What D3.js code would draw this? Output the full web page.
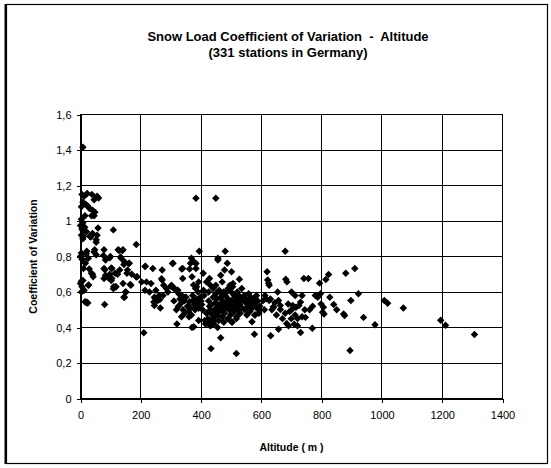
<!DOCTYPE html>
<html>
<head>
<meta charset="utf-8">
<script src="https://cdn.jsdelivr.net/npm/d3@7"></script>
<style>
    body { margin: 0; background: #fff; }
    svg { display: block; font-family: 'Liberation Sans', Arial, sans-serif; }
</style>
</head>
<body>
<svg id="canvas" width="551" height="468"></svg>
<script>
/** Chart texts */
const titleLines = ['Snow Load Coefficient of Variation  -  Altitude', '(331 stations in Germany)'];
const xTitle = 'Altitude ( m )';
const yTitle = 'Coefficient of Variation';

/** Tick values */
const xTicks = [0, 200, 400, 600, 800, 1000, 1200, 1400];
const yTicks = [0, 0.2, 0.4, 0.6, 0.8, 1.0, 1.2, 1.4, 1.6];

/** Stations below 60 m : [altitude, coefficient of variation] */
const lowland = [
    [8, 1.415],
    [5, 1.15], [12, 1.14], [22, 1.155], [38, 1.15], [55, 1.14], [45, 1.12], [60, 1.13],
    [8, 1.105], [17, 1.095], [24, 1.085], [3, 1.08], [30, 1.07],
    [40, 1.06], [48, 1.05], [37, 1.03], [45, 1.03], [15, 1.03],
    [3, 1.01], [8, 0.99], [0, 0.975], [14, 0.965], [5, 0.955], [8, 0.945], [58, 0.96], [20, 0.94],
    [40, 0.93], [55, 0.92], [34, 0.91], [8, 0.9], [52, 0.88], [10, 0.914], [31, 0.914], [52, 0.895], [3, 0.92],
    [21, 0.829], [47, 0.838], [3, 0.82], [19, 0.815], [45, 0.825], [0, 0.8], [26, 0.79], [52, 0.81],
    [14, 0.768], [16, 0.762], [10, 0.733], [36, 0.705], [42, 0.686], [29, 0.73], [40, 0.7], [3, 0.8], [5, 0.785],
    [0, 0.648], [26, 0.638], [5, 0.629], [3, 0.66], [8, 0.665], [27, 0.64], [3, 0.6], [12, 0.61],
    [21, 0.543], [19, 0.54], [24, 0.538], [15, 0.545]
];

/** Stations 60 - 300 m */
const plains = [
    [109, 0.95], [78, 0.838], [125, 0.838], [141, 0.838], [185, 0.867], [128, 0.834], [139, 0.834],
    [76, 0.805], [97, 0.793], [133, 0.797],
    [83, 0.78], [99, 0.8], [135, 0.79], [146, 0.77], [162, 0.762], [78, 0.733], [104, 0.733], [130, 0.724],
    [156, 0.724], [81, 0.725], [102, 0.735], [144, 0.755], [160, 0.76],
    [83, 0.695], [94, 0.686], [78, 0.676], [104, 0.676], [115, 0.705], [188, 0.686], [97, 0.7], [123, 0.7],
    [154, 0.705], [170, 0.7], [185, 0.685], [92, 0.68], [102, 0.665], [110, 0.63],
    [214, 0.743], [240, 0.733], [271, 0.724], [215, 0.745],
    [115, 0.629], [109, 0.619], [141, 0.648], [167, 0.638], [118, 0.63], [149, 0.6], [165, 0.643],
    [203, 0.657], [219, 0.657], [234, 0.648], [271, 0.667], [276, 0.638], [269, 0.675], [250, 0.61],
    [214, 0.61], [229, 0.6], [151, 0.6], [146, 0.571], [144, 0.57],
    [245, 0.571], [261, 0.58], [248, 0.563], [263, 0.557], [274, 0.58], [245, 0.524], [243, 0.543],
    [80, 0.53], [210, 0.37], [285, 0.62], [290, 0.6], [265, 0.51], [255, 0.55]
];

/** Stations 300 - 420 m */
const hills = [
    [307, 0.762], [339, 0.733], [365, 0.762], [305, 0.76], [336, 0.73], [362, 0.73], [339, 0.676], [370, 0.686],
    [368, 0.79], [383, 0.76], [394, 0.83], [383, 1.128], [376, 0.77], [383, 0.733],
    [302, 0.638], [313, 0.619], [323, 0.61], [300, 0.633], [310, 0.62], [326, 0.59], [336, 0.58], [347, 0.57],
    [375, 0.64], [385, 0.63], [407, 0.705], [392, 0.657], [418, 0.657], [428, 0.676],
    [310, 0.55], [318, 0.5], [320, 0.42], [325, 0.52], [330, 0.56], [335, 0.54], [340, 0.5], [345, 0.55],
    [350, 0.57], [355, 0.52], [358, 0.49], [362, 0.545], [365, 0.51], [368, 0.47], [370, 0.4], [372, 0.58],
    [375, 0.555], [378, 0.53], [380, 0.5], [382, 0.62], [385, 0.56], [388, 0.545], [390, 0.6], [392, 0.508],
    [395, 0.52], [398, 0.57], [400, 0.55], [402, 0.53], [405, 0.5], [408, 0.61], [410, 0.58], [412, 0.44],
    [415, 0.42], [418, 0.48], [376, 0.404], [392, 0.44], [360, 0.46], [345, 0.48], [335, 0.46]
];

/** Stations 420 - 600 m */
const uplands = [
    [449, 1.128],
    [480, 0.83], [456, 0.78], [487, 0.762], [501, 0.714], [478, 0.724], [465, 0.695], [527, 0.672], [456, 0.79],
    [449, 0.638], [470, 0.657], [496, 0.638], [506, 0.648], [449, 0.59], [475, 0.6],
    [527, 0.571], [543, 0.58], [558, 0.59], [564, 0.562], [579, 0.571], [584, 0.58], [520, 0.6], [535, 0.62],
    [550, 0.56], [570, 0.55], [590, 0.5], [595, 0.52], [560, 0.53], [545, 0.55], [510, 0.58], [500, 0.6],
    [490, 0.62], [505, 0.63], [515, 0.59],
    [425, 0.55], [428, 0.52], [430, 0.5], [432, 0.48], [435, 0.53], [438, 0.45], [440, 0.57], [442, 0.42],
    [445, 0.5], [448, 0.54], [450, 0.47], [452, 0.56], [455, 0.52], [458, 0.44], [460, 0.49], [462, 0.53],
    [465, 0.57], [468, 0.5], [470, 0.46], [472, 0.55], [475, 0.52], [478, 0.48], [480, 0.58], [483, 0.51],
    [485, 0.54], [488, 0.45], [490, 0.56], [493, 0.5], [495, 0.53], [498, 0.47], [500, 0.55], [503, 0.43],
    [505, 0.51], [508, 0.54], [510, 0.49], [512, 0.57], [515, 0.52], [518, 0.46], [520, 0.55], [523, 0.5],
    [525, 0.58], [528, 0.53], [530, 0.48], [533, 0.55], [536, 0.51], [540, 0.57], [545, 0.5], [548, 0.54],
    [552, 0.47], [555, 0.52], [558, 0.55], [562, 0.49], [565, 0.57], [570, 0.51], [575, 0.54], [578, 0.47],
    [582, 0.52], [588, 0.55], [592, 0.48],
    [433, 0.413], [438, 0.426], [454, 0.47], [501, 0.432], [517, 0.45], [569, 0.432], [579, 0.47],
    [465, 0.342], [433, 0.281], [517, 0.253], [577, 0.362],
    [425, 0.6], [440, 0.62], [430, 0.64], [460, 0.61], [485, 0.6], [470, 0.59],
    [423, 0.45], [427, 0.43], [430, 0.41], [445, 0.44], [455, 0.4], [440, 0.47], [475, 0.43]
];

/** Stations 600 - 810 m */
const lowMountains = [
    [619, 0.714], [621, 0.667], [626, 0.638], [624, 0.65], [679, 0.83], [681, 0.672], [685, 0.657], [741, 0.676],
    [654, 0.6], [616, 0.562], [626, 0.552], [657, 0.552], [663, 0.524], [640, 0.514], [689, 0.533], [704, 0.524],
    [715, 0.514], [730, 0.543], [735, 0.58], [779, 0.58], [787, 0.571], [796, 0.59], [756, 0.676], [793, 0.65],
    [640, 0.517], [663, 0.502], [684, 0.423], [699, 0.45], [709, 0.419], [735, 0.46], [679, 0.48], [694, 0.49],
    [631, 0.353], [657, 0.39], [730, 0.372], [725, 0.524], [744, 0.5], [746, 0.457], [720, 0.45], [769, 0.396],
    [798, 0.533], [806, 0.514], [803, 0.486], [808, 0.476],
    [605, 0.55], [610, 0.5], [612, 0.58], [630, 0.56], [645, 0.54], [670, 0.45], [690, 0.41], [700, 0.5],
    [712, 0.47], [720, 0.41], [760, 0.5], [770, 0.52], [650, 0.47], [635, 0.5], [700, 0.6], [712, 0.58]
];

/** Stations above 810 m */
const mountains = [
    [827, 0.571], [840, 0.53], [850, 0.5], [823, 0.698], [873, 0.476], [876, 0.467], [897, 0.552], [922, 0.59],
    [910, 0.733], [880, 0.705], [894, 0.27], [939, 0.457], [977, 0.415], [1008, 0.552], [1019, 0.537],
    [1071, 0.51], [1195, 0.441], [1211, 0.413], [1307, 0.36], [814, 0.67]
];

const stations = [...lowland, ...plains, ...hills, ...uplands, ...lowMountains, ...mountains];

/** Layout */
const width = 551;
const height = 468;
const margin = { left: 80.5, right: 502.5, top: 114.5, bottom: 398.5 };

const canvas = d3.select('#canvas');

/** Outer chart border */
canvas.append('rect')
    .attr('x', 6.5).attr('y', 4.5)
    .attr('width', 541).attr('height', 459)
    .attr('fill', 'none')
    .attr('stroke', '#000')
    .attr('stroke-width', 1.2);
canvas.append('line')
    .attr('x1', 5.5).attr('x2', 5.5)
    .attr('y1', 4).attr('y2', 464)
    .attr('stroke', '#000')
    .attr('stroke-width', 2);

/** Scales */
const xScale = d3.scaleLinear().domain([0, 1400]).range([margin.left, margin.right]);
const yScale = d3.scaleLinear().domain([0, 1.6]).range([margin.bottom, margin.top]);

/** Grid lines */
const grid = canvas.append('g').attr('shape-rendering', 'crispEdges');

grid.selectAll('.hgrid')
    .data(yTicks)
    .enter()
    .append('line')
    .attr('x1', margin.left).attr('x2', margin.right)
    .attr('y1', (d) => yScale(d)).attr('y2', (d) => yScale(d))
    .attr('stroke', '#000');

grid.selectAll('.vgrid')
    .data(xTicks)
    .enter()
    .append('line')
    .attr('y1', margin.top).attr('y2', margin.bottom)
    .attr('x1', (d) => xScale(d)).attr('x2', (d) => xScale(d))
    .attr('stroke', '#000');

/** Axes */
const xAxis = d3.axisBottom(xScale)
    .tickValues(xTicks)
    .tickSize(4)
    .tickPadding(9)
    .tickFormat(d3.format('d'));

const yAxis = d3.axisLeft(yScale)
    .tickValues(yTicks)
    .tickSize(4)
    .tickPadding(5)
    .tickFormat((d) => d3.format('~g')(d).replace('.', ','));

const styleAxis = (g) => {
    g.attr('shape-rendering', 'crispEdges');
    g.select('.domain').attr('stroke', '#000');
    g.selectAll('.tick line').attr('stroke', '#000');
    g.selectAll('.tick text')
        .attr('fill', '#000')
        .style('font-family', "'Liberation Sans', Arial, sans-serif")
        .style('font-size', '11px');
};

canvas.append('g')
    .attr('transform', `translate(0,${margin.bottom})`)
    .call(xAxis)
    .call(styleAxis);

canvas.append('g')
    .attr('transform', `translate(${margin.left},0)`)
    .call(yAxis)
    .call(styleAxis);

/** Plot border */
canvas.append('rect')
    .attr('x', margin.left).attr('y', margin.top)
    .attr('width', margin.right - margin.left)
    .attr('height', margin.bottom - margin.top)
    .attr('fill', 'none')
    .attr('stroke', '#000')
    .attr('shape-rendering', 'crispEdges');

/** Diamond markers */
const diamond = d3.symbol().type(d3.symbolSquare).size(28);

canvas.append('g')
    .selectAll('path')
    .data(stations)
    .enter()
    .append('path')
    .attr('d', diamond)
    .attr('transform', (d) => `translate(${xScale(d[0])},${yScale(d[1])}) rotate(45)`)
    .attr('fill', '#000');

/** Titles */
canvas.append('text')
    .attr('text-anchor', 'middle')
    .style('font-size', '13px')
    .style('font-weight', 'bold')
    .style('white-space', 'pre')
    .selectAll('tspan')
    .data(titleLines)
    .enter()
    .append('tspan')
    .attr('x', 288)
    .attr('y', (d, i) => 41 + i * 16)
    .text((d) => d);

canvas.append('text')
    .attr('x', (margin.left + margin.right) / 2)
    .attr('y', 451)
    .attr('text-anchor', 'middle')
    .style('font-size', '10.5px')
    .style('font-weight', 'bold')
    .text(xTitle);

canvas.append('text')
    .attr('transform', `translate(37,${(margin.top + margin.bottom) / 2}) rotate(-90)`)
    .attr('text-anchor', 'middle')
    .style('font-size', '10.5px')
    .style('font-weight', 'bold')
    .text(yTitle);
</script>
</body>
</html>
